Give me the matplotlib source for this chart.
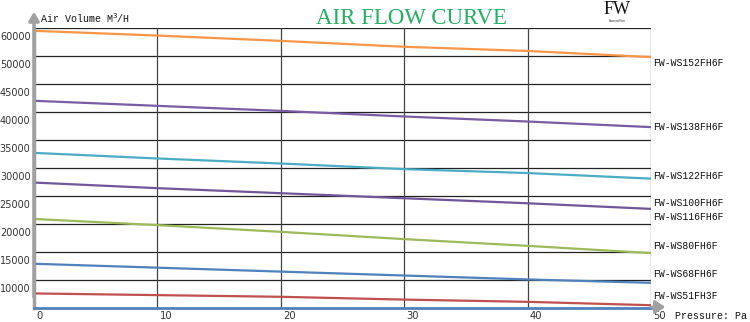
import numpy as np
import matplotlib
matplotlib.use("Agg")
import matplotlib.pyplot as plt
from matplotlib.transforms import ScaledTranslation, blended_transform_factory

# pressure (Pa) and air volume (m3/h) per model
pressure = [0, 10, 20, 30, 40, 50]

models = ['FW-WS152FH6F', 'FW-WS138FH6F', 'FW-WS122FH6F', 'FW-WS100FH6F',
          'FW-WS80FH6F', 'FW-WS68FH6F', 'FW-WS51FH3F']
ws152 = [59000, 57300, 55400, 53300, 51800, 49800]
ws138 = [42000, 41100, 40200, 39200, 38300, 37300]
ws122 = [32700, 31700, 30800, 29800, 29100, 28100]
ws100 = [27400, 26400, 25500, 24600, 23700, 22700]
ws80 = [20900, 19800, 18600, 17300, 16100, 14800]
ws68 = [12900, 12200, 11500, 10800, 10100, 9500]
ws51 = [7600, 7300, 7000, 6500, 6100, 5500]
colors = ['#f79646', '#7b5ba4', '#4bacc6', '#73559a', '#9bbb59', '#4f81bd', '#c0504d']

# the y axis is not linear: the gridlines are evenly spaced at these values
grid_vals = [5000, 10000, 15000, 20000, 25000, 30000, 35000, 40000, 45000, 50000, 60000]
ytick_vals = [10000, 15000, 20000, 25000, 30000, 35000, 40000, 45000, 50000, 60000]
xtick_vals = [0, 10, 20, 30, 40, 50]

# right side labels (one more than the lines: WS116 shares a spot)
side_labels = ['FW-WS152FH6F', 'FW-WS138FH6F', 'FW-WS122FH6F', 'FW-WS100FH6F',
               'FW-WS116FH6F', 'FW-WS80FH6F', 'FW-WS68FH6F', 'FW-WS51FH3F']
side_label_y = [48750, 37320, 28570, 23750, 21250, 16070, 11070, 7140]

grid_pos = np.arange(len(grid_vals))


def fwd(v):
    return np.interp(v, grid_vals, grid_pos)


def inv(p):
    return np.interp(p, grid_pos, grid_vals)


fig = plt.figure(figsize=(7.5, 3.22), dpi=100)
ax = fig.add_axes([34 / 750, 14 / 322, 617 / 750, 280 / 322])
ax.set_yscale('function', functions=(fwd, inv))
ax.set_xlim(0, 50)
ax.set_ylim(5000, 60000)

for v in grid_vals[1:]:
    ax.axhline(v, color='#222222', lw=0.9, zorder=1)
for x in xtick_vals[1:]:
    ax.axvline(x, color='#444444', lw=0.9, zorder=1)

series = [ws152, ws138, ws122, ws100, ws80, ws68, ws51]
for vals, c, name in zip(series, colors, models):
    ax.plot(pressure, vals, color=c, lw=1.6, label=name, zorder=3, solid_capstyle='butt')

for spine in ['top', 'right']:
    ax.spines[spine].set_visible(False)
ax.spines['left'].set_color('#a0a0a0')
ax.spines['left'].set_linewidth(2.5)
ax.spines['bottom'].set_color('#4f81bd')
ax.spines['bottom'].set_linewidth(2)
ax.spines['bottom'].set_zorder(4)

ax.set_yticks(ytick_vals)
ax.set_yticklabels([str(v) for v in ytick_vals])
ax.yaxis.set_minor_locator(matplotlib.ticker.NullLocator())
ax.set_xticks(xtick_vals)
ax.set_xticklabels([str(v) for v in xtick_vals])
ax.tick_params(length=0, labelsize=7, labelcolor='#333333', pad=2.5)
ax.tick_params(axis='x', labelsize=7.2, pad=2.5)

for lab in ax.get_yticklabels():
    lab.set_transform(lab.get_transform() + ScaledTranslation(0, -0.08, fig.dpi_scale_trans))
for lab in ax.get_xticklabels():
    lab.set_horizontalalignment('left')
    lab.set_transform(lab.get_transform() + ScaledTranslation(0.02, 0, fig.dpi_scale_trans))

# labels at the right end of each curve
tr = blended_transform_factory(ax.transAxes, ax.transData)
for name, y in zip(side_labels, side_label_y):
    ax.text(1.003, y, name, transform=tr, ha='left', va='center',
            fontsize=7, family='Liberation Mono', color='#111111', clip_on=False)

# axis arrows
fig.add_artist(matplotlib.patches.FancyArrowPatch(
    (34 / 750, 1 - 300 / 322), (34 / 750, 1 - 9 / 322), transform=fig.transFigure,
    arrowstyle='-|>,head_length=5,head_width=3', color='#a0a0a0', lw=2.5, mutation_scale=1))
fig.add_artist(matplotlib.patches.FancyArrowPatch(
    (648 / 750, 1 - 307 / 322), (668 / 750, 1 - 307 / 322), transform=fig.transFigure,
    arrowstyle='-|>,head_length=6,head_width=4', color='#a0a0a0', lw=2, mutation_scale=1))

fig.text(675 / 750, 1 - 316 / 322, 'Pressure: Pa', fontsize=7.2, family='Liberation Mono',
         color='#111111', va='center', ha='left')
fig.text(40 / 750, 1 - 18 / 322, 'Air Volume M$^3$/H', fontsize=7.2, family='Liberation Mono',
         color='#111111', va='center', ha='left')
fig.text(411 / 750, 1 - 18 / 322, 'AIR FLOW CURVE', fontsize=16.5, family='Liberation Serif',
         color='#22b060', va='center', ha='center')
fig.text(617 / 750, 1 - 10 / 322, 'FW', fontsize=13, family='Liberation Serif',
         color='#111111', va='center', ha='center')
fig.text(617 / 750, 1 - 21 / 322, 'FamousWin', fontsize=2.5, family='Liberation Serif',
         color='#333333', va='center', ha='center')

fig.savefig('out.png', dpi=100)
